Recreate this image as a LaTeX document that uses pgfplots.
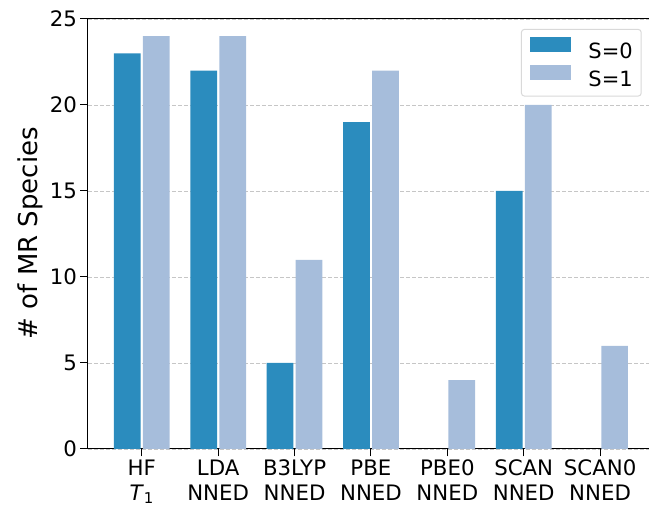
\documentclass[border=0pt]{standalone}
\usepackage{fontspec}
\setmainfont{DejaVu Sans}
\usepackage{pgfplots}
\pgfplotsset{compat=1.18}
\definecolor{dark}{HTML}{2B8CBE}
\definecolor{light}{HTML}{A6BDDB}
\newcommand{\tickfont}{\fontsize{21.3}{24.7}\selectfont}
\begin{document}
\begin{tikzpicture}
\begin{axis}[
  at={(0,0)}, anchor=south west, scale only axis,
  width=561pt, height=430pt,
  xmin=-0.704, xmax=6.64, ymin=0, ymax=25,
  axis x line*=bottom, axis y line*=left,
  axis line style={black, line width=1pt},
  tick align=outside, major tick length=7.5pt,
  tick style={black, line width=1pt},
  /pgf/number format/assume math mode=true,
  ytick={0,5,10,15,20,25},
  xtick={0,1,2,3,4,5,6},
  xticklabels={{HF\\\textit{T}\textsubscript{1}},{LDA\\NNED},{B3LYP\\NNED},{PBE\\NNED},{PBE0\\NNED},{SCAN\\NNED},{SCAN0\\NNED}},
  xticklabel style={align=center, font=\tickfont},
  yticklabel style={font=\tickfont},
  ymajorgrids,
  grid style={gray!45, line width=0.8pt, dash pattern=on 4pt off 2pt},
  ylabel={\# of MR Species},
  ylabel style={at={(axis description cs:-0.102,0.502)}, anchor=center, font=\fontsize{26}{30}\selectfont},
  legend style={at={(0.987,0.977)}, anchor=north east, draw=black!15, line width=1pt,
    rounded corners=3pt, font=\fontsize{21}{24}\selectfont, inner xsep=8.5pt, inner ysep=8pt, row sep=5pt,
    nodes={inner sep=0pt},
    /tikz/every odd column/.append style={column sep=17pt}},
  legend image code/.code={\fill[#1, sharp corners] (0pt,0pt) rectangle (41.5pt,14.3pt);},
]
\addplot[ybar, bar width=0.35, bar shift=-0.19, fill=dark, draw=none] coordinates {
  (0,23) (1,22) (2,5) (3,19) (5,15)};
\addlegendentry{S=0}
\addplot[ybar, bar width=0.35, bar shift=0.19, fill=light, draw=none] coordinates {
  (0,24) (1,24) (2,11) (3,22) (4,4) (5,20) (6,6)};
\addlegendentry{S=1}
\draw[black, line width=1pt] (rel axis cs:0,1) -- (rel axis cs:1,1);
\end{axis}
\pgfresetboundingbox
\path (-88pt,-59pt) rectangle (561pt,449pt);
\end{tikzpicture}
\end{document}
